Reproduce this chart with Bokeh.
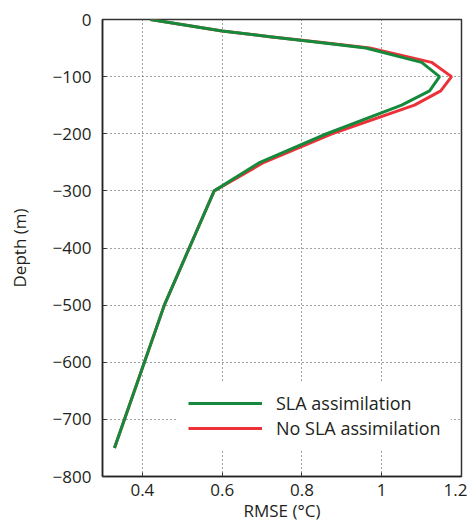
from bokeh.plotting import figure
from bokeh.models import Range1d, FixedTicker, Legend, LegendItem
from bokeh.embed import file_html
from bokeh.resources import INLINE

depth = [0, -10, -20, -30, -40, -50, -75, -100, -125, -150, -200, -250, -300, -500, -750]
rmse_sla = [0.42, 0.51, 0.60, 0.72, 0.84, 0.96, 1.10, 1.145, 1.12, 1.05, 0.862, 0.695, 0.58, 0.455, 0.33]
rmse_nosla = [0.42, 0.51, 0.60, 0.72, 0.845, 0.97, 1.125, 1.175, 1.148, 1.082, 0.875, 0.705, 0.58, 0.455, 0.33]

x_ticks = [0.4, 0.6, 0.8, 1.0, 1.2]
y_ticks = [0, -100, -200, -300, -400, -500, -600, -700, -800]
x_title = "RMSE (°C)"
y_title = "Depth (m)"

FONT = "Open Sans"
TXT = "#231f20"

p = figure(width=467, height=528, output_backend="svg", toolbar_location=None,
           x_range=Range1d(0.3, 1.2), y_range=Range1d(-800, 0),
           min_border_left=102, min_border_top=19, min_border_right=6, min_border_bottom=52)

p.outline_line_color = "#333333"
p.outline_line_width = 1.5
p.background_fill_color = "white"
p.border_fill_color = "white"

for ax in (p.xaxis[0], p.yaxis[0]):
    ax.major_label_text_font = FONT
    ax.major_label_text_font_size = "17px"
    ax.major_label_text_color = TXT
    ax.axis_label_text_font = FONT
    ax.axis_label_text_font_size = "17px"
    ax.axis_label_text_font_style = "normal"
    ax.axis_label_text_color = TXT
    ax.axis_line_color = "#222222"
    ax.axis_line_width = 1.5
    ax.major_tick_line_color = "#333333"
    ax.major_tick_in = 4
    ax.major_tick_out = 0
    ax.minor_tick_line_color = None

p.xaxis.ticker = FixedTicker(ticks=x_ticks)
p.xaxis.major_label_overrides = {0.4: "0.4", 0.6: "0.6", 0.8: "0.8", 1.0: "1", 1: "1", 1.2: "1.2"}
p.xaxis.axis_label = x_title
p.xaxis.major_label_standoff = 7
p.xaxis.axis_label_standoff = 0

p.yaxis.ticker = FixedTicker(ticks=y_ticks)
p.yaxis.major_label_overrides = {t: ("0" if t == 0 else "\u2212" + str(-t)) for t in y_ticks}
p.yaxis.axis_label = y_title
p.yaxis.major_label_standoff = 11
p.yaxis.axis_label_standoff = 19

for g in (p.xgrid[0], p.ygrid[0]):
    g.grid_line_color = "#444444"
    g.grid_line_dash = "1 3"
    g.grid_line_width = 1

r_red = p.line(rmse_nosla, depth, line_color="#ec3238", line_width=3)
r_green = p.line(rmse_sla, depth, line_color="#15893c", line_width=3)

legend = Legend(items=[LegendItem(label="SLA assimilation", renderers=[r_green]),
                       LegendItem(label="No SLA assimilation", renderers=[r_red])],
                location=(76, 26), orientation="vertical")
legend.background_fill_color = "white"
legend.background_fill_alpha = 1.0
legend.border_line_alpha = 0
legend.label_text_font = FONT
legend.label_text_font_size = "18px"
legend.label_text_color = TXT
legend.glyph_width = 74
legend.glyph_height = 20
legend.label_height = 20
legend.label_standoff = 14
legend.spacing = 1
legend.padding = 10
legend.margin = 0
p.add_layout(legend, "center")

open("out.html", "w").write(file_html(p, INLINE))
